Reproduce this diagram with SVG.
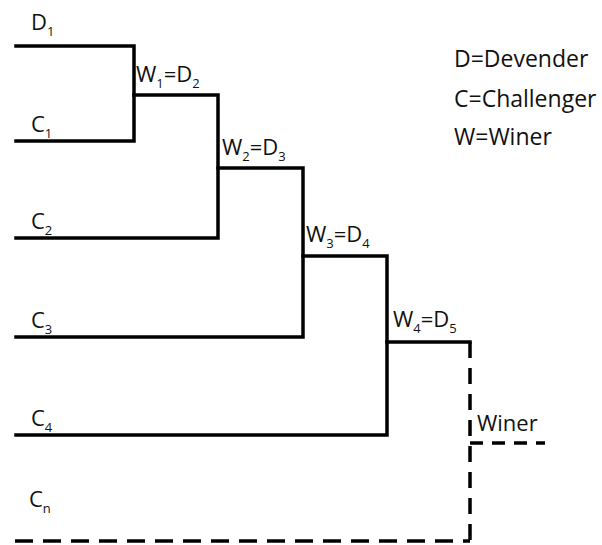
<svg xmlns="http://www.w3.org/2000/svg" width="602" height="545" viewBox="0 0 602 545">
  <style>
    .lbl { font-family: "Open Sans", "Liberation Sans", sans-serif; font-size: 22px; fill: #111; }
    .legend { font-size: 23px; }
    .sub { font-size: 13px; }
    .solid { fill: none; stroke: #000; stroke-width: 3.5; stroke-linejoin: miter; stroke-linecap: square; }
    .dash { fill: none; stroke: #000; stroke-width: 3.5; }
  </style>
  <rect width="602" height="545" fill="#fff"/>

  <!-- bracket connectors -->
  <g id="connectors">
    <path class="solid" d="M16,46 H134 V141 H16"/>
    <path class="solid" d="M134,95 H218 V238 H16"/>
    <path class="solid" d="M218,168 H303 V337 H16"/>
    <path class="solid" d="M303,256 H387 V435 H16"/>
    <path class="solid" d="M387,342 H470"/>
    <path class="dash" d="M470,342 V545" stroke-dasharray="16 10"/>
    <path class="dash" d="M470,443 H545" stroke-dasharray="13 9"/>
    <path class="dash" d="M15,541 H470" stroke-dasharray="18 10"/>
  </g>

  <!-- player labels -->
  <g id="D1"><text class="lbl" x="31" y="30">D<tspan class="sub" dy="6">1</tspan></text></g>
  <g id="C1"><text class="lbl" x="31" y="132">C<tspan class="sub" dy="6">1</tspan></text></g>
  <g id="C2"><text class="lbl" x="31" y="229">C<tspan class="sub" dy="6">2</tspan></text></g>
  <g id="C3"><text class="lbl" x="31" y="328">C<tspan class="sub" dy="6">3</tspan></text></g>
  <g id="C4"><text class="lbl" x="31" y="426">C<tspan class="sub" dy="6">4</tspan></text></g>
  <g id="Cn"><text class="lbl" x="29" y="507">C<tspan class="sub" dy="6">n</tspan></text></g>

  <!-- winner labels -->
  <g id="W1"><text class="lbl" x="136" y="82">W<tspan class="sub" dy="6">1</tspan><tspan dy="-6">=D</tspan><tspan class="sub" dy="6">2</tspan></text></g>
  <g id="W2"><text class="lbl" x="222" y="155">W<tspan class="sub" dy="6">2</tspan><tspan dy="-6">=D</tspan><tspan class="sub" dy="6">3</tspan></text></g>
  <g id="W3"><text class="lbl" x="306" y="242">W<tspan class="sub" dy="6">3</tspan><tspan dy="-6">=D</tspan><tspan class="sub" dy="6">4</tspan></text></g>
  <g id="W4"><text class="lbl" x="393" y="327">W<tspan class="sub" dy="6">4</tspan><tspan dy="-6">=D</tspan><tspan class="sub" dy="6">5</tspan></text></g>
  <g id="Winer"><text class="lbl" x="477" y="431">Winer</text></g>

  <!-- legend -->
  <g id="legend">
    <text class="lbl legend" x="454" y="67">D=Devender</text>
    <text class="lbl legend" x="454" y="107">C=Challenger</text>
    <text class="lbl legend" x="454" y="145">W=Winer</text>
  </g>
</svg>
